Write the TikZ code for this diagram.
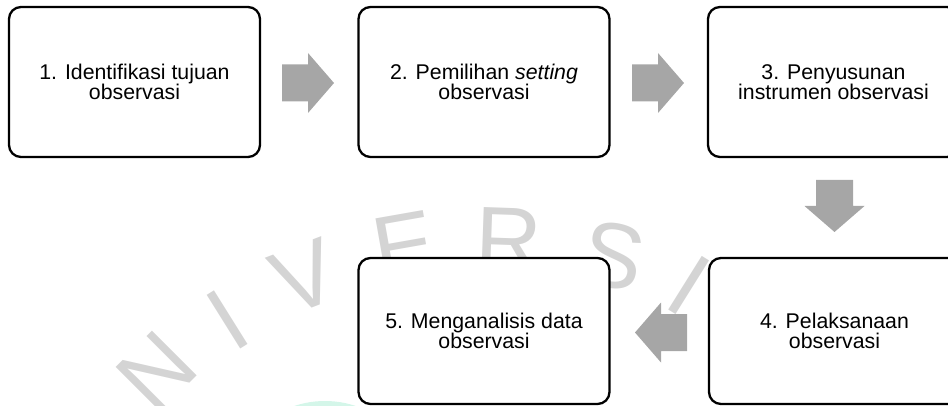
\documentclass[tikz,border=0pt]{standalone}
\usepackage{fontspec}
\setmainfont{Liberation Sans}
\definecolor{arrowgray}{RGB}{166,166,166}
\definecolor{wmgray}{RGB}{212,212,212}
\definecolor{wmgreen}{RGB}{212,246,233}
\begin{document}
\begin{tikzpicture}[x=1pt,y=-1pt,
  stepbox/.style={draw=black, line width=2.3pt, fill=white, rounded corners=12pt,
    minimum width=251pt, minimum height=150pt, inner sep=0pt, align=center,
    font=\fontsize{21.3}{20.5}\selectfont},
  lowbox/.style={stepbox, minimum height=146pt},
  wm/.style={text=wmgray, inner sep=0pt, font=\fontsize{92}{92}\selectfont},
  blockarrow/.pic={\fill[arrowgray] (0,-18.5) -- (26,-18.5) -- (26,-30) -- (52,0)
     -- (26,30) -- (26,18.5) -- (0,18.5) -- cycle;}
]
\useasboundingbox (0,0) rectangle (948,406);
\clip (0,0) rectangle (948,406);
% watermark
\fill[wmgreen] (325,498) circle (97);
\node[wm, rotate=45]  (wN)  at (157,372) {N};
\node[wm, rotate=32]  (wI)  at (228,320) {I};
\node[wm, rotate=21]  (wV)  at (305,277) {V};
\node[wm, rotate=10]  (wE)  at (404,246) {E};
\node[wm, rotate=-2]  (wR)  at (509,240) {R};
\node[wm, rotate=-12] (wS)  at (613,256) {S};
\node[wm, rotate=-32] (wI2) at (689,285) {I};
% boxes
\node[stepbox] (s1) at (134.5,82) {1. Identifikasi tujuan\\observasi};
\node[stepbox] (s2) at (484,82) {2. Pemilihan \textit{setting}\\observasi};
\node[stepbox] (s3) at (833.5,82) {3. Penyusunan\\instrumen observasi};
\node[lowbox] (s4) at (834.5,331) {4. Pelaksanaan\\observasi};
\node[lowbox] (s5) at (484,331) {5. Menganalisis data\\observasi};
% block arrows
\coordinate (a12) at (282,83);
\coordinate (a23) at (632,83);
\coordinate (a34) at (834.5,180);
\coordinate (a45) at (687,332.5);
\pic at (a12) {blockarrow};
\pic at (a23) {blockarrow};
\pic[rotate=-90] at (a34) {blockarrow};
\pic[rotate=180] at (a45) {blockarrow};
\end{tikzpicture}
\end{document}
